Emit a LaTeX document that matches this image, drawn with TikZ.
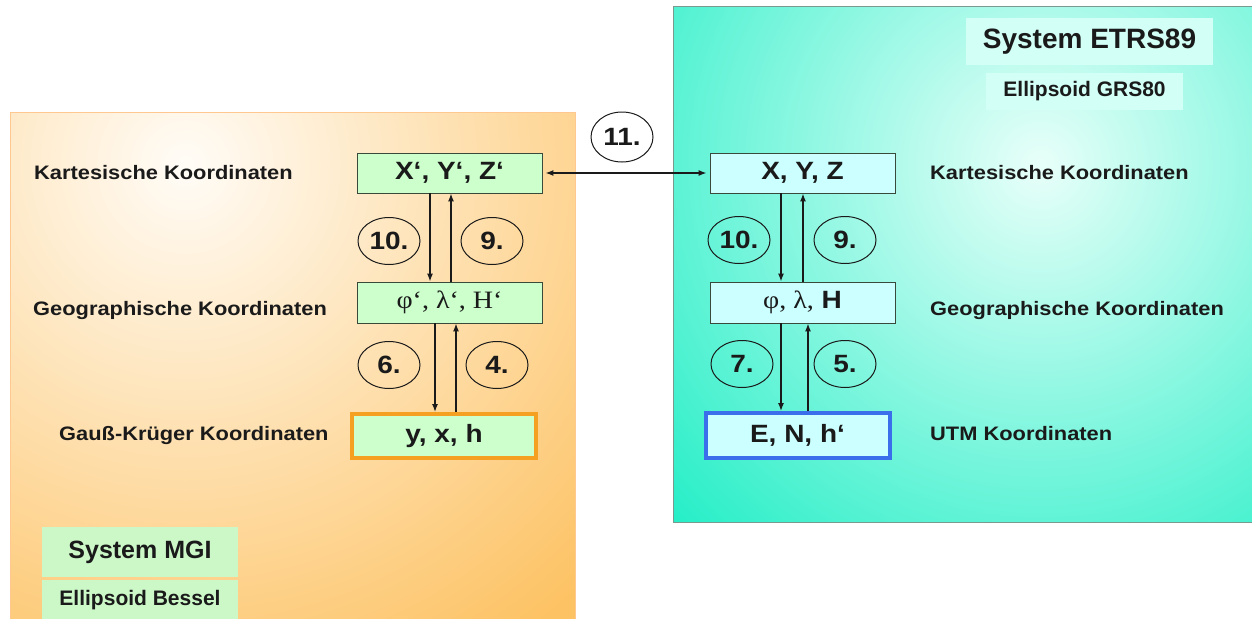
\documentclass[tikz,border=0pt]{standalone}
\usepackage{fontspec}
\setmainfont{Liberation Sans}
\newfontfamily\wsans[FakeStretch=1.12]{Liberation Sans}
\newfontfamily\wserif[FakeStretch=1.12]{Liberation Serif}
\usetikzlibrary{arrows.meta,shapes.geometric}

\definecolor{orangeEdge}{HTML}{FDC263}
\definecolor{orangeCore}{HTML}{FFFCF7}
\definecolor{orangeRim}{HTML}{FFC890}
\definecolor{tealEdge}{HTML}{22EEC6}
\definecolor{tealCore}{HTML}{E8FFF9}
\definecolor{tealRim}{HTML}{7A9A90}
\definecolor{boxgreen}{HTML}{CCFFCC}
\definecolor{boxcyan}{HTML}{CCFFFF}
\definecolor{boxline}{HTML}{3A4A3A}
\definecolor{gkline}{HTML}{F5A020}
\definecolor{utmline}{HTML}{3A6EEA}
\definecolor{titlegreen}{HTML}{CCF8C8}
\definecolor{titlecyan}{HTML}{D2FFF6}
\definecolor{ink}{HTML}{1A1A1A}

\tikzset{
  coordbox/.style={draw=boxline, line width=0.9pt, minimum width=185pt,
    minimum height=40pt, inner sep=0pt, text=ink,
    font=\wsans\bfseries\fontsize{25}{29}\selectfont},
  greenbox/.style={coordbox, fill=boxgreen},
  cyanbox/.style={coordbox, fill=boxcyan},
  numell/.style={ellipse, draw=ink, line width=1pt, minimum width=62pt,
    minimum height=47pt, inner sep=0pt, text=ink,
    font=\wsans\bfseries\fontsize{25}{29}\selectfont},
  arr/.style={-{Latex[length=8pt,width=6pt]}, line width=1.3pt, draw=ink},
  lab/.style={anchor=base west, inner sep=0pt, text=ink,
    font=\wsans\bfseries\fontsize{19.5}{23}\selectfont},
  titlebox/.style={inner sep=0pt, text=ink, font=\bfseries}
}

\begin{document}
\begin{tikzpicture}[x=1pt,y=-1pt]
\useasboundingbox (0,0) rectangle (1252,618);
\fill[white] (0,0) rectangle (1252,618);

% MGI panel with soft orange radial shading
\begin{scope}
  \clip (10,112) rectangle (575,630);
  \fill[orangeEdge] (10,112) rectangle (575,630);
  \shade[inner color=orangeCore, outer color=orangeEdge] (185,165) circle (580);
\end{scope}
\draw[orangeRim, line width=1pt] (575,630) -- (575,112) -- (10,112) -- (10,630);

% ETRS89 panel with soft teal radial shading
\begin{scope}
  \clip (673,7) rectangle (1260,522);
  \fill[tealEdge] (673,7) rectangle (1260,522);
  \shade[inner color=tealCore, outer color=tealEdge] (1040,165) circle (520);
\end{scope}
\draw[tealRim, line width=1pt] (1260,7) -- (673,7) -- (673,522) -- (1260,522);

% system titles
\node[titlebox, fill=titlegreen, minimum width=196pt, minimum height=50pt,
  font=\bfseries\fontsize{25}{30}\selectfont] (mgi) at (140,552) {System MGI};
\node[titlebox, fill=titlegreen, minimum width=196pt, minimum height=40pt,
  font=\bfseries\fontsize{21}{25}\selectfont] (bessel) at (140,600) {Ellipsoid Bessel};
\node[titlebox, fill=titlecyan, minimum width=247pt, minimum height=47pt,
  font=\bfseries\fontsize{28}{33}\selectfont] (etrs) at (1089.5,41.5) {System ETRS89};
\node[titlebox, fill=titlecyan, minimum width=197pt, minimum height=37pt,
  font=\bfseries\fontsize{21}{25}\selectfont] (grs) at (1084.5,91.5) {Ellipsoid GRS80};

% coordinate boxes, MGI side
\node[greenbox] (xyzp) at (449.5,173) {X‘, Y‘, Z‘};
\node[greenbox, minimum height=41pt,
  font=\wserif\fontsize{25}{29}\selectfont] (phip) at (449.5,302.5) {φ‘, λ‘, H‘};
\node[greenbox, draw=gkline, line width=4pt, minimum width=184pt,
  minimum height=44pt] (gk) at (444,436) {y, x, h};

% coordinate boxes, ETRS89 side
\node[cyanbox] (xyz) at (802.5,173) {X, Y, Z};
\node[cyanbox, minimum height=41pt] (phi) at (802.5,302.5)
  {{\wserif\mdseries φ, λ,} H};
\node[cyanbox, draw=utmline, line width=4pt, minimum width=184pt,
  minimum height=45pt] (utm) at (797.5,435.5) {E, N, h‘};

% row labels
\node[lab] (lk) at (34,179) {Kartesische Koordinaten};
\node[lab] (lg) at (33,315) {Geographische Koordinaten};
\node[lab] (lgk) at (59,440) {Gauß-Krüger Koordinaten};
\node[lab] (rk) at (930,179) {Kartesische Koordinaten};
\node[lab] (rg) at (930,315) {Geographische Koordinaten};
\node[lab] (ru) at (930,440) {UTM Koordinaten};

% transformation steps, MGI side
\draw[arr] ([xshift=-19.5pt]xyzp.south) -- ([xshift=-19.5pt]phip.north);
\draw[arr] ([xshift=1.5pt]phip.north) -- ([xshift=1.5pt]xyzp.south);
\draw[arr] ([xshift=-14.5pt]phip.south) -- ([xshift=-9pt]gk.north);
\draw[arr] ([xshift=12pt]gk.north) -- ([xshift=6.5pt]phip.south);

% transformation steps, ETRS89 side
\draw[arr] ([xshift=-21.5pt]xyz.south) -- ([xshift=-21.5pt]phi.north);
\draw[arr] ([xshift=0.5pt]phi.north) -- ([xshift=0.5pt]xyz.south);
\draw[arr] ([xshift=-21.5pt]phi.south) -- ([xshift=-16.5pt]utm.north);
\draw[arr] ([xshift=10.5pt]utm.north) -- ([xshift=5.5pt]phi.south);

% datum transformation between the two systems
\draw[{Latex[length=8pt,width=6pt]}-{Latex[length=8pt,width=6pt]}, line width=1.3pt, draw=ink]
  ([xshift=3pt]xyzp.east) -- ([xshift=-3pt]xyz.west);

% step numbers
\node[numell] (l10) at (389,241) {10.};
\node[numell] (l9) at (492,241) {9.};
\node[numell] (l6) at (389,365) {6.};
\node[numell] (l4) at (497,365) {4.};
\node[numell] (r10) at (739,240) {10.};
\node[numell] (r9) at (845,240) {9.};
\node[numell] (r7) at (742,364) {7.};
\node[numell] (r5) at (845,364) {5.};
\node[numell, fill=white, minimum height=50pt] (s11) at (622,137) {11.};
\end{tikzpicture}
\end{document}
